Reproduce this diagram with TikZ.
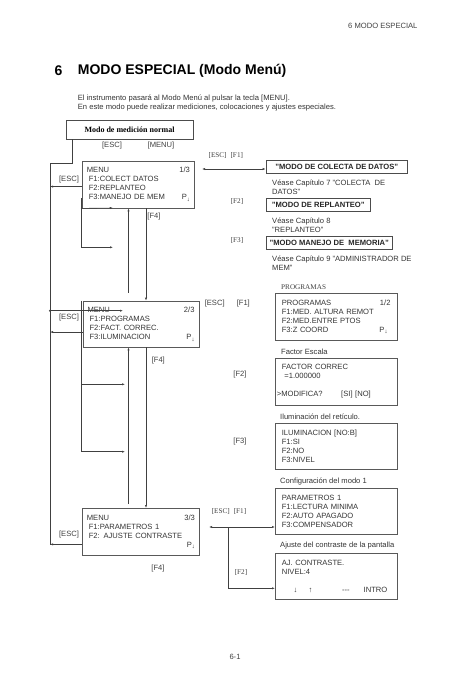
\documentclass[tikz,border=0pt]{standalone}
\usepackage{fontspec}
\setmainfont{Liberation Sans}
\newfontfamily\serif{Liberation Serif}
\usetikzlibrary{arrows.meta,positioning,calc}

\newcommand\txt{\fontsize{7.6}{9}\selectfont}
\newcommand\pdown{P\raisebox{-0.4ex}{\fontsize{6}{6}\selectfont ↓}}

\tikzset{
  screen/.style={draw=black!65, line width=0.7pt, anchor=north west, inner xsep=4.5pt, inner ysep=2pt,
    align=left, font=\txt, text=black!80},
  screenR/.style={screen, inner xsep=6.5pt, text width=108.7pt, minimum height=46.5pt},
  modebox/.style={draw=black!70, line width=0.8pt, anchor=north west, minimum height=12.8pt, inner ysep=1pt,
    font=\bfseries\txt, text=black!85},
  key/.style={font=\txt, text=black!75},
  skey/.style={font=\serif\fontsize{7.2}{9}\selectfont, text=black!75},
  note/.style={anchor=west, inner sep=0pt, align=left, font=\txt, text=black!80},
  wire/.style={draw=black!75, line width=0.6pt},
  arr/.style={wire, -{Latex[length=3pt,width=2.2pt]}},
  arr2/.style={wire, {Latex[length=3pt,width=2.2pt]}-{Latex[length=3pt,width=2.2pt]}},
}

\begin{document}
\begin{tikzpicture}[x=1pt,y=-1pt]
\useasboundingbox (0,0) rectangle (474,693);

% header and title
\node[anchor=east, key] (runhead) at (421,26) {6 MODO ESPECIAL};
\node[font=\bfseries\fontsize{14}{16}\selectfont] (chapno) at (58.5,71) {6};
\node[anchor=west, inner sep=0pt, font=\bfseries\fontsize{14}{16}\selectfont] (chaptitle) at (77.7,71) {MODO ESPECIAL (Modo Menú)};
\node[note] (intro) at (77.7,103) {El instrumento pasará al Modo Menú al pulsar la tecla [MENU].\\En este modo puede realizar mediciones, colocaciones y ajustes especiales.};

% normal mode
\node[draw=black!70, line width=0.8pt, minimum width=127pt, minimum height=19pt,
  font=\serif\bfseries\fontsize{8}{9}\selectfont] (normal) at (129.5,129.5) {Modo de medición normal};
\node[key] (keyEsc) at (112,146) {[ESC]};
\node[key] (keyMenu) at (161,146) {[MENU]};

% menu pages
\node[screen, text width=103pt, minimum height=47pt] (menuA) at (82,160.7)
  {MENU\hfill 1/3\\\hspace*{2pt}F1:COLECT DATOS\\\hspace*{2pt}F2:REPLANTEO\\\hspace*{2pt}F3:MANEJO DE MEM\hfill\pdown};
\node[screen, text width=107pt, minimum height=46pt] (menuB) at (82.7,300.7)
  {MENU\hfill 2/3\\\hspace*{2pt}F1:PROGRAMAS\\\hspace*{2pt}F2:FACT. CORREC.\\\hspace*{2pt}F3:ILUMINACION\hfill\pdown};
\node[screen, text width=108pt, minimum height=47pt] (menuC) at (82,508)
  {MENU\hfill 3/3\\\hspace*{2pt}F1:PARAMETROS 1\\\hspace*{2pt}F2: AJUSTE CONTRASTE\\\hspace*{0pt}\hfill\pdown};

\node[key] (escA) at (69,179.3) {[ESC]};
\node[key] (escB) at (69,317.7) {[ESC]};
\node[key] (escC) at (69,534.3) {[ESC]};
\node[key] (f4A) at (154,217) {[F4]};
\node[key] (f4B) at (158.3,360.7) {[F4]};
\node[key] (f4C) at (158,569) {[F4]};

% page 1 targets
\node[skey] (escF1A) at (225.8,155) {[ESC]\hspace{4pt}[F1]};
\node[skey] (f2A) at (237,201.7) {[F2]};
\node[skey] (f3A) at (237,240) {[F3]};
\node[modebox, minimum width=141.3pt] (colecta) at (265.7,160) {"MODO DE COLECTA DE DATOS"};
\node[modebox, minimum width=104.3pt] (replanteo) at (265.7,197.7) {"MODO DE REPLANTEO"};
\node[modebox, minimum width=126.3pt] (memoria) at (265.7,235.7) {"MODO MANEJO DE~ MEMORIA"};
\node[note] (seeA) at (272,187.5) {Véase Capítulo 7 "COLECTA~ DE\\DATOS"};
\node[note] (seeB) at (272,225.5) {Véase Capítulo 8\\"REPLANTEO"};
\node[note] (seeC) at (272,263.5) {Véase Capítulo 9 "ADMINISTRADOR DE\\MEM"};

% page 2 targets
\node[key] (escF1B) at (214.7,303.3) {[ESC]};
\node[key] (f1B) at (243.3,303.3) {[F1]};
\node[key] (f2B) at (240,375) {[F2]};
\node[key] (f3B) at (240,442) {[F3]};
\node[anchor=west, inner sep=0pt, skey] (progcap) at (281,287) {PROGRAMAS};
\node[screenR] (prog) at (275,293.3)
  {PROGRAMAS\hfill 1/2\hspace*{3pt}\\F1:MED. ALTURA REMOT\\F2:MED.ENTRE PTOS\\F3:Z COORD\hfill\pdown\hspace*{3pt}};
\node[note] (factcap) at (281,351.7) {Factor Escala};
\node[screenR] (factor) at (275,358)
  {FACTOR CORREC\\\hspace*{2.5pt}=1.000000\\[9pt]\hspace*{-5pt}\makebox[64.4pt][l]{>MODIFICA?}[SI] [NO]};
\node[note] (ilumcap) at (280,416.7) {Iluminación del retículo.};
\node[screenR] (ilum) at (275,422.7) {ILUMINACION [NO:B]\\F1:SI\\F2:NO\\F3:NIVEL};

% page 3 targets
\node[skey] (escF1C) at (229,511.7) {[ESC]\hspace{4pt}[F1]};
\node[skey] (f2C) at (241,572) {[F2]};
\node[note] (paramcap) at (280,481.7) {Configuración del modo 1};
\node[screenR] (param) at (275,487.7) {PARAMETROS 1\\F1:LECTURA MINIMA\\F2:AUTO APAGADO\\F3:COMPENSADOR};
\node[note] (contcap) at (280,546) {Ajuste del contraste de la pantalla};
\node[screenR] (contraste) at (275,552.7)
  {AJ. CONTRASTE.\\NIVEL:4\\[9pt]\hspace*{11.8pt}\makebox[15pt][l]{↓}\makebox[33.4pt][l]{↑}\makebox[21.6pt][l]{-{}-{}-}INTRO};

\node[key] (pageno) at (235,657) {6-1};

% ESC rail
\coordinate (railtop) at (50,163);
\coordinate (railbot) at (50,545);
\draw[wire] ([xshift=7pt]normal.south west) |- (railtop) -- (railbot);
\draw[arr] ([yshift=-2pt]menuA.west) -- ([yshift=-2pt]menuA.west -| railtop);
\draw[arr] ([yshift=-8pt]menuB.west) -- ([yshift=-8pt]menuB.west -| railtop);
\draw[arr] ([yshift=-12.5pt]menuC.west) -- ([yshift=-12.5pt]menuC.west -| railtop);

% F4 paging
\coordinate (upx) at (128.5,0);
\coordinate (dnx) at (146,0);
\draw[arr] ([yshift=8pt]menuB.north -| upx) -- (menuA.south -| upx);
\draw[arr] (menuA.south -| dnx) -- (menuB.north -| dnx);
\draw[arr] ([yshift=4pt]menuC.north -| upx) -- (menuB.south -| upx);
\draw[arr] (menuB.south -| dnx) -- (menuC.north -| dnx);

% short stubs
\coordinate (tapA) at ([xshift=-1pt]menuA.south west);
\coordinate (tipA1) at (113,208);
\coordinate (tipA2) at (113,247.3);
\draw[arr] ([yshift=10pt]tapA) |- (tipA2);
\draw[arr] (tapA) -- (tipA1);
\coordinate (tipB0) at (123,310.7);
\fill[black!75] (railtop |- tipB0) circle (1.2pt);
\draw[arr] (railtop |- tipB0) -- (tipB0);
\coordinate (tapB) at ([xshift=-1pt]menuB.north west);
\coordinate (tipB1) at (125,384.3);
\coordinate (tipB2) at (125,451.7);
\draw[arr] (tapB) |- (tipB2);
\draw[arr] (tapB |- tipB1) -- (tipB1);

% links to the right
\coordinate (linkA) at (202,169);
\draw[arr2] (linkA) -- (colecta.west |- linkA);
\coordinate (linkC) at (209,527);
\coordinate (forkC) at (228,527);
\draw[arr2] (linkC) -- (param.west |- linkC);
\draw[arr] (forkC) |- ([yshift=-12pt]contraste.west);
\end{tikzpicture}
\end{document}
